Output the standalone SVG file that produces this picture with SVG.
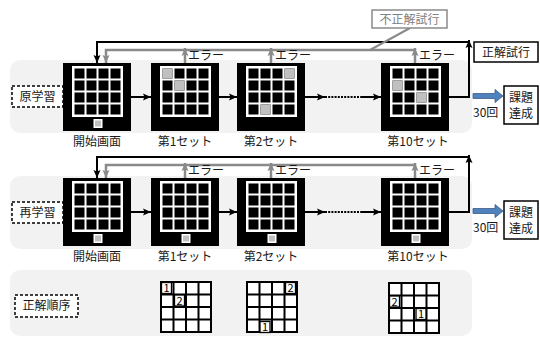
<svg xmlns="http://www.w3.org/2000/svg" xmlns:xlink="http://www.w3.org/1999/xlink" width="540" height="338" viewBox="0 0 540 338">
<style>
text{font-family:"Noto Sans CJK JP","Noto Sans",sans-serif;font-size:12px;fill:#1a1a1a}
.mid{text-anchor:middle}
.panel{fill:#f2f2f2}
.bl{fill:none;stroke:#000;stroke-width:2}
.gr{fill:none;stroke:#8a8a8a;stroke-width:2.5}
.dash{fill:#fff;stroke:#000;stroke-width:1.5;stroke-dasharray:3,2}
.box{fill:#fff;stroke:#000;stroke-width:1.5}
.gcell{fill:#c0c0c0}
.sg{fill:#fff;stroke:#000;stroke-width:2}
.nb{fill:#fff;stroke:#000;stroke-width:1.3}
.num{font-size:11px;text-anchor:middle;fill:#000}
</style>
<defs>
<marker id="ab" markerUnits="userSpaceOnUse" markerWidth="9" markerHeight="9" refX="8" refY="4" orient="auto" viewBox="0 0 9 8"><path d="M0,0.5 L8,4 L0,7.5 L1.5,4 Z" fill="#000"/></marker>
<marker id="ag" markerUnits="userSpaceOnUse" markerWidth="9" markerHeight="9" refX="8" refY="4" orient="auto" viewBox="0 0 9 8"><path d="M0,0.5 L8,4 L0,7.5 L1.5,4 Z" fill="#8a8a8a"/></marker>
<g id="screen">
<rect x="0" y="0" width="68" height="68" fill="#000"/>
<rect x="9" y="3" width="51" height="51" fill="#fff"/>
<rect x="11.5" y="5.5" width="10" height="10"/><rect x="23.5" y="5.5" width="10" height="10"/><rect x="35.5" y="5.5" width="10" height="10"/><rect x="47.5" y="5.5" width="10" height="10"/>
<rect x="11.5" y="17.5" width="10" height="10"/><rect x="23.5" y="17.5" width="10" height="10"/><rect x="35.5" y="17.5" width="10" height="10"/><rect x="47.5" y="17.5" width="10" height="10"/>
<rect x="11.5" y="29.5" width="10" height="10"/><rect x="23.5" y="29.5" width="10" height="10"/><rect x="35.5" y="29.5" width="10" height="10"/><rect x="47.5" y="29.5" width="10" height="10"/>
<rect x="11.5" y="41.5" width="10" height="10"/><rect x="23.5" y="41.5" width="10" height="10"/><rect x="35.5" y="41.5" width="10" height="10"/><rect x="47.5" y="41.5" width="10" height="10"/>
</g>
<g id="sq"><rect x="30.5" y="56" width="9" height="9" fill="#fff"/><rect x="32" y="57.5" width="6" height="6" fill="#c0c0c0"/></g>
<g id="small">
<rect x="0" y="0" width="50" height="50" class="sg"/>
<path d="M12.5,0V50M25,0V50M37.5,0V50M0,12.5H50M0,25H50M0,37.5H50" stroke="#000" stroke-width="2"/>
</g>
<path id="blue" d="M0,-2.5 H22 V-6.5 L30,0 L22,6.5 V2.5 H0 Z" fill="#4f81bd" stroke="#385d8a" stroke-width="0.8"/>
</defs>

<g id="panels">
<rect class="panel" x="10" y="60" width="462" height="73" rx="10"/>
<rect class="panel" x="10" y="176" width="462" height="73" rx="10"/>
<rect class="panel" x="10" y="270" width="462" height="66" rx="10"/>
</g>

<g id="connectors">
<path class="bl" d="M131,97H151" marker-end="url(#ab)"/>
<path class="bl" d="M219,97H237" marker-end="url(#ab)"/>
<path class="bl" d="M305,97H325" marker-end="url(#ab)"/>
<path d="M325,97H361" stroke="#000" stroke-width="2" stroke-dasharray="2,1.2"/>
<path class="bl" d="M361,97H381" marker-end="url(#ab)"/>
<path class="bl" d="M449,97H469V40" marker-end="url(#ab)"/>
<path class="bl" d="M469,42H97V63" marker-end="url(#ab)"/>
<path class="gr" d="M415,50H106V63" marker-end="url(#ag)"/>
<path class="gr" d="M185,63V48" marker-end="url(#ag)"/>
<path class="gr" d="M271,63V48" marker-end="url(#ag)"/>
<path class="gr" d="M415,63V48" marker-end="url(#ag)"/>
<path d="M410,28L370,50" stroke="#8a8a8a" stroke-width="2"/>
<use xlink:href="#blue" x="473" y="96"/>

<path class="bl" d="M131,212H151" marker-end="url(#ab)"/>
<path class="bl" d="M219,212H237" marker-end="url(#ab)"/>
<path class="bl" d="M305,212H325" marker-end="url(#ab)"/>
<path d="M325,212H361" stroke="#000" stroke-width="2" stroke-dasharray="2,1.2"/>
<path class="bl" d="M361,212H381" marker-end="url(#ab)"/>
<path class="bl" d="M449,212H469V155" marker-end="url(#ab)"/>
<path class="bl" d="M469,157H97V178" marker-end="url(#ab)"/>
<path class="gr" d="M415,165H106V178" marker-end="url(#ag)"/>
<path class="gr" d="M185,178V163" marker-end="url(#ag)"/>
<path class="gr" d="M271,178V163" marker-end="url(#ag)"/>
<path class="gr" d="M415,178V163" marker-end="url(#ag)"/>
<use xlink:href="#blue" x="473" y="211"/>
</g>

<g id="row1-label"><rect class="dash" x="12" y="86" width="51" height="21"/><text class="mid" x="37.5" y="101">原学習</text></g>
<g id="row2-label"><rect class="dash" x="12" y="202" width="51" height="21"/><text class="mid" x="37.5" y="217">再学習</text></g>
<g id="row3-label"><rect class="dash" x="15" y="295" width="63" height="22"/><text class="mid" x="46.5" y="310">正解順序</text></g>

<g id="r1-start"><use xlink:href="#screen" x="63" y="63"/><use xlink:href="#sq" x="63" y="63"/><text class="mid" x="97" y="146">開始画面</text></g>
<g id="r1-set1"><use xlink:href="#screen" x="151" y="63"/><rect class="gcell" x="162.5" y="68.5" width="10" height="10"/><rect class="gcell" x="174.5" y="80.5" width="10" height="10"/><text class="mid" x="185" y="146">第1セット</text><text x="188" y="60">エラー</text></g>
<g id="r1-set2"><use xlink:href="#screen" x="237" y="63"/><rect class="gcell" x="284.5" y="68.5" width="10" height="10"/><rect class="gcell" x="260.5" y="104.5" width="10" height="10"/><text class="mid" x="271" y="146">第2セット</text><text x="275" y="60">エラー</text></g>
<g id="r1-set10"><use xlink:href="#screen" x="381" y="63"/><rect class="gcell" x="392.5" y="80.5" width="10" height="10"/><rect class="gcell" x="416.5" y="92.5" width="10" height="10"/><text class="mid" x="418" y="146">第10セット</text><text x="419" y="60">エラー</text></g>

<g id="incorrect"><rect x="372" y="10" width="75" height="18" fill="#fff" stroke="#8a8a8a" stroke-width="1.5"/><text class="mid" x="409.5" y="24" style="fill:#808080">不正解試行</text></g>
<g id="correct"><rect class="box" x="474" y="42" width="64" height="20"/><text class="mid" x="506" y="57">正解試行</text></g>
<g id="r1-goal"><text x="473" y="117">30回</text><rect class="box" x="504" y="86" width="34" height="38"/><text class="mid" x="521" y="102">課題</text><text class="mid" x="521" y="118">達成</text></g>

<g id="r2-start"><use xlink:href="#screen" x="63" y="178"/><use xlink:href="#sq" x="63" y="178"/><text class="mid" x="97" y="261">開始画面</text></g>
<g id="r2-set1"><use xlink:href="#screen" x="151" y="178"/><use xlink:href="#sq" x="151" y="178"/><text class="mid" x="185" y="261">第1セット</text><text x="188" y="175">エラー</text></g>
<g id="r2-set2"><use xlink:href="#screen" x="237" y="178"/><use xlink:href="#sq" x="237" y="178"/><text class="mid" x="271" y="261">第2セット</text><text x="275" y="175">エラー</text></g>
<g id="r2-set10"><use xlink:href="#screen" x="381" y="178"/><use xlink:href="#sq" x="381" y="178"/><text class="mid" x="418" y="261">第10セット</text><text x="419" y="175">エラー</text></g>
<g id="r2-goal"><text x="473" y="232">30回</text><rect class="box" x="504" y="201" width="34" height="38"/><text class="mid" x="521" y="217">課題</text><text class="mid" x="521" y="233">達成</text></g>

<g id="order1"><use xlink:href="#small" x="161" y="282"/>
<rect class="nb" x="161.5" y="282.5" width="10" height="11"/><text class="num" x="166.5" y="292">1</text>
<rect class="nb" x="174.5" y="295" width="10" height="11"/><text class="num" x="179.5" y="304.5">2</text></g>
<g id="order2"><use xlink:href="#small" x="247" y="282"/>
<rect class="nb" x="285.5" y="282.5" width="10" height="11"/><text class="num" x="290.5" y="292">2</text>
<rect class="nb" x="260" y="321.5" width="10" height="11"/><text class="num" x="265" y="331">1</text></g>
<g id="order3"><use xlink:href="#small" x="389" y="283"/>
<rect class="nb" x="389.5" y="296" width="10" height="11"/><text class="num" x="394.5" y="305.5">2</text>
<rect class="nb" x="416" y="308.5" width="10" height="11"/><text class="num" x="421" y="318">1</text></g>
</svg>
